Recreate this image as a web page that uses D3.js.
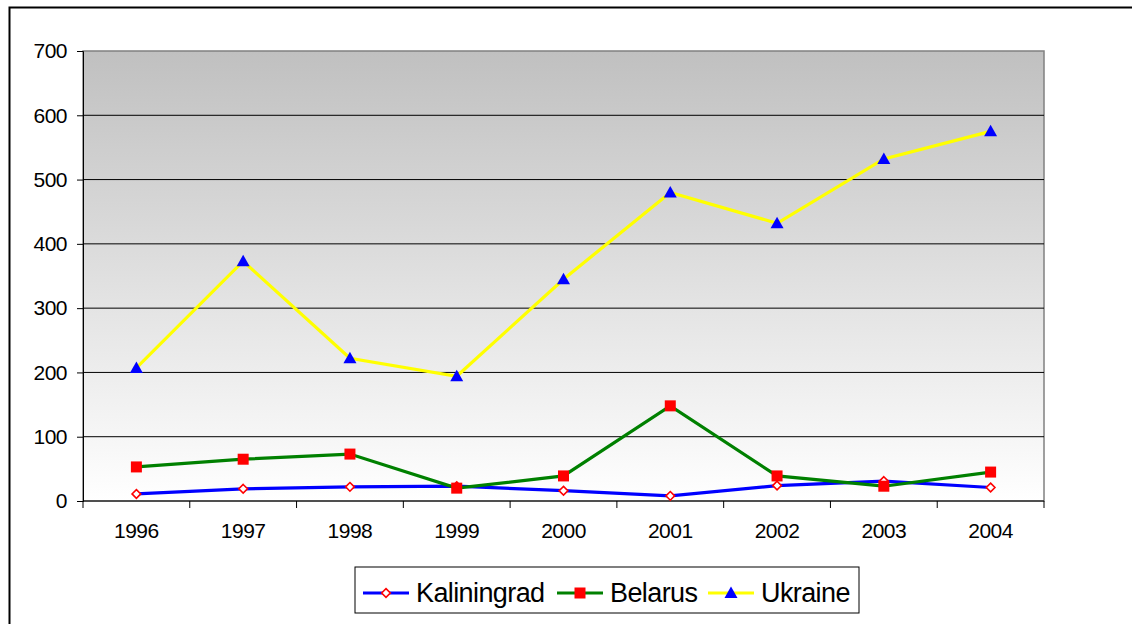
<!DOCTYPE html>
<html>
<head>
<meta charset="utf-8">
<script src="https://cdn.jsdelivr.net/npm/d3@7"></script>
<style>
  body { margin: 0; background: #fff; }
  svg { display: block; font-family: "Liberation Sans", Arial, sans-serif; }
</style>
</head>
<body>
<div id="chart"></div>
<script>
const years = ['1996', '1997', '1998', '1999', '2000', '2001', '2002', '2003', '2004'];
const kaliningrad = [11, 19, 22, 23, 16, 8, 24, 31, 21];
const belarus = [53, 65, 73, 20, 39, 148, 39, 23, 45];
const ukraine = [207, 373, 222, 194, 345, 480, 432, 532, 575];
const yTicks = [0, 100, 200, 300, 400, 500, 600, 700];

const width = 1132;
const height = 624;
const margin = { top: 51, left: 83, right: 88, bottom: 123 };
const innerW = width - margin.left - margin.right;
const innerH = height - margin.top - margin.bottom;

const svg = d3.select('#chart').append('svg')
    .attr('width', width)
    .attr('height', height);

// outer chart frame (runs off right and bottom edges)
svg.append('rect')
    .attr('x', 9.5).attr('y', 7.5)
    .attr('width', 1140).attr('height', 640)
    .attr('fill', 'none')
    .attr('stroke', '#000')
    .attr('stroke-width', 2);

const defs = svg.append('defs');
const grad = defs.append('linearGradient')
    .attr('id', 'bg').attr('x1', 0).attr('y1', 0).attr('x2', 0).attr('y2', 1);
grad.append('stop').attr('offset', '0%').attr('stop-color', '#c0c0c0');
grad.append('stop').attr('offset', '100%').attr('stop-color', '#ffffff');

const x = d3.scaleBand().domain(years).range([0, innerW]);
const y = d3.scaleLinear().domain([0, 700]).range([innerH, 0]);

const g = svg.append('g')
    .attr('transform', `translate(${margin.left},${margin.top})`);

g.append('rect')
    .attr('width', innerW).attr('height', innerH)
    .attr('fill', 'url(#bg)')
    .attr('stroke', '#808080')
    .attr('stroke-width', 1.5);

// gridlines
g.selectAll('.grid').data(yTicks.filter(d => d > 0 && d < 700)).enter()
    .append('line')
    .attr('x1', 0).attr('x2', innerW)
    .attr('y1', d => y(d)).attr('y2', d => y(d))
    .attr('stroke', '#000').attr('stroke-width', 1);

// y axis
const yAxis = g.append('g')
    .call(d3.axisLeft(y).tickValues(yTicks).tickSize(6).tickPadding(10));
yAxis.select('.domain').attr('stroke', '#000');
yAxis.selectAll('line').attr('stroke', '#000');
yAxis.selectAll('text')
    .attr('font-size', 21)
    .attr('letter-spacing', -0.5)
    .attr('fill', '#000');

// x axis with ticks between categories
const xAxis = g.append('g').attr('transform', `translate(0,${innerH})`);
xAxis.append('line').attr('x1', 0).attr('x2', innerW).attr('stroke', '#000');
const bounds = d3.range(years.length + 1).map(i => i * x.step());
xAxis.selectAll('.tk').data(bounds).enter().append('line')
    .attr('x1', d => d).attr('x2', d => d)
    .attr('y1', 0).attr('y2', 7)
    .attr('stroke', '#000');
xAxis.selectAll('.lbl').data(years).enter().append('text')
    .attr('x', d => x(d) + x.bandwidth() / 2)
    .attr('y', 37)
    .attr('text-anchor', 'middle')
    .attr('font-size', 21)
    .attr('letter-spacing', -0.5)
    .text(d => d);

const series = [
    { name: 'Kaliningrad', values: kaliningrad, color: '#0000ff', marker: 'diamond' },
    { name: 'Belarus', values: belarus, color: '#008000', marker: 'square' },
    { name: 'Ukraine', values: ukraine, color: '#ffff00', marker: 'triangle' },
];

const cx = d => x(d) + x.bandwidth() / 2;
const line = d3.line().x((d, i) => cx(years[i])).y(d => y(d));

function drawMarker(sel, type) {
    if (type === 'diamond') {
        sel.append('path')
            .attr('d', d3.symbol(d3.symbolDiamond2, 48)())
            .attr('fill', '#fff').attr('stroke', '#ff0000').attr('stroke-width', 1.6);
    } else if (type === 'square') {
        sel.append('rect')
            .attr('x', -5.5).attr('y', -5.5).attr('width', 11).attr('height', 11)
            .attr('fill', '#ff0000');
    } else {
        sel.append('path')
            .attr('d', 'M0,-6.5L6.5,5L-6.5,5Z')
            .attr('fill', '#0000ff');
    }
}

series.forEach(s => {
    g.append('path')
        .datum(s.values)
        .attr('fill', 'none')
        .attr('stroke', s.color)
        .attr('stroke-width', 3.2)
        .attr('d', line);
});
series.forEach(s => {
    s.values.forEach((v, i) => {
        const m = g.append('g').attr('transform', `translate(${cx(years[i])},${y(v)})`);
        drawMarker(m, s.marker);
    });
});

// legend
const legend = svg.append('g').attr('transform', 'translate(355,567)');
legend.append('rect')
    .attr('width', 504).attr('height', 46)
    .attr('fill', '#fff').attr('stroke', '#000').attr('stroke-width', 1);
const legendX = [8, 202, 353];
series.forEach((s, i) => {
    const lg = legend.append('g').attr('transform', `translate(${legendX[i]},26)`);
    lg.append('line').attr('x1', 0).attr('x2', 46)
        .attr('stroke', s.color).attr('stroke-width', 3.2);
    drawMarker(lg.append('g').attr('transform', 'translate(23,0)'), s.marker);
    lg.append('text')
        .attr('x', 53).attr('y', 9)
        .attr('font-size', 27)
        .attr('letter-spacing', -0.6)
        .text(s.name);
});
</script>
</body>
</html>
